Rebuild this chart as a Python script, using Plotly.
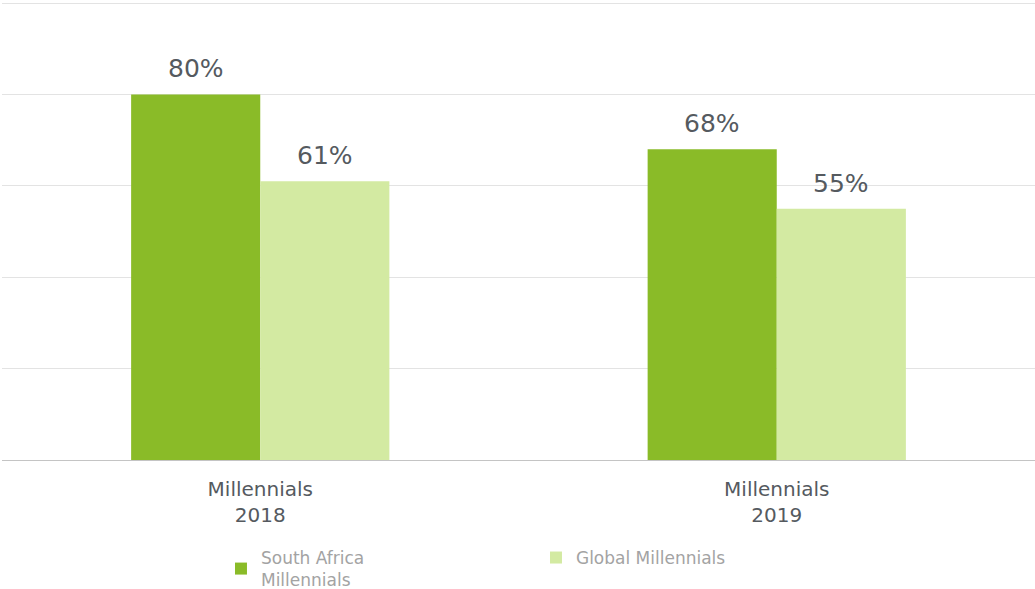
import plotly.graph_objects as go

categories = ["Millennials<br>2018", "Millennials<br>2019"]
south_africa = [80, 68]
global_mill = [61, 55]
series_names = ["South Africa<br>Millennials", "Global Millennials"]
y_ticks = [0, 20, 40, 60, 80, 100]

FONT = "Verdana, DejaVu Sans, sans-serif"
C_DARK = "#8abb28"
C_LIGHT = "#d3eaa2"
BAR_HALF_PX = 64.6  # half a bar width in pixels (style offset for labels)

fig = go.Figure()
for name, vals, col in [(series_names[0], south_africa, C_DARK),
                        (series_names[1], global_mill, C_LIGHT)]:
    fig.add_trace(go.Bar(
        x=categories, y=vals, name=name,
        marker=dict(color=col, line=dict(width=0)),
        cliponaxis=False,
    ))

# value labels above each bar, placed in data coordinates
for shift, vals in [(-BAR_HALF_PX, south_africa), (BAR_HALF_PX, global_mill)]:
    for cat, v in zip(categories, vals):
        fig.add_annotation(
            x=cat, y=v, xref="x", yref="y", text=f"{v}%", showarrow=False,
            xanchor="center", yanchor="bottom", xshift=shift, yshift=9,
            font=dict(size=25, color="#555a5f", family=FONT),
        )

fig.update_layout(
    width=1035, height=589,
    margin=dict(l=2, r=0, t=2, b=129),
    paper_bgcolor="white", plot_bgcolor="white",
    barmode="group", bargap=0.5, bargroupgap=0,
    font=dict(family=FONT),
    showlegend=True,
    legend=dict(
        orientation="h", xref="container", yref="container",
        x=0.2135, y=0.034, xanchor="left", yanchor="middle",
        font=dict(size=17, color="#a3a3a3", family=FONT),
        entrywidth=270, entrywidthmode="pixels",
        valign="middle", traceorder="normal",
    ),
    xaxis=dict(
        type="category", showline=True, linecolor="#c4c4c4", linewidth=1,
        showgrid=False, ticks="", ticklabelstandoff=11,
        tickfont=dict(size=20, color="#555a5f", family=FONT),
    ),
    yaxis=dict(
        range=[0, 100.22], tickvals=y_ticks, showticklabels=False,
        showgrid=True, gridcolor="#e3e3e3", gridwidth=1, zeroline=False,
    ),
)

fig.write_html("out.html", config={"displayModeBar": False},
               post_script="document.body.style.margin='0';")
